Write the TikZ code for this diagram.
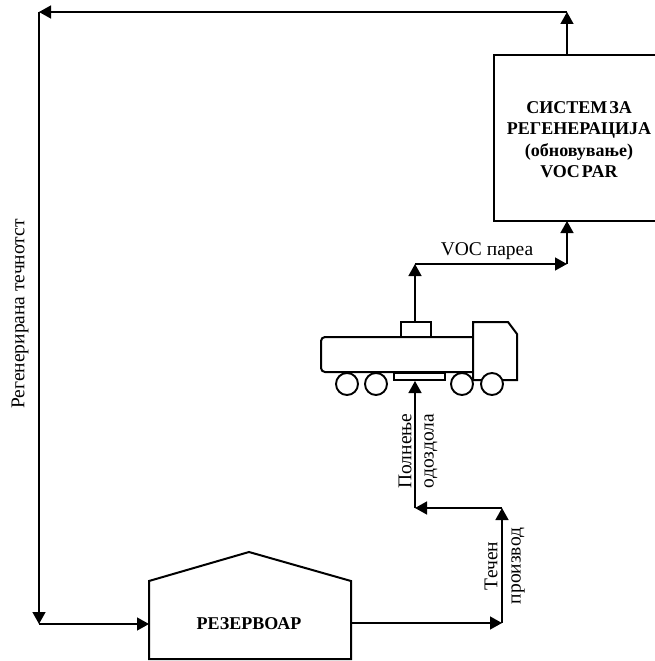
\documentclass[tikz,border=0pt]{standalone}
\usepackage{fontspec}
\setmainfont{Liberation Serif}
\usetikzlibrary{arrows.meta}

\begin{document}
\begin{tikzpicture}[
  x=1pt, y=-1pt,
  every node/.style={align=center, font=\fontsize{19.5}{22}\selectfont},
  title/.style={font=\fontsize{18}{21.5}\selectfont\bfseries},
  vessel/.style={draw=black, line width=2pt, line join=miter},
  wheel/.style={circle, draw=black, line width=1.9pt, minimum size=22pt, inner sep=0pt, fill=white},
  arrow/.style={-{Triangle[length=12pt, width=13pt]}, line width=1.4pt}
]
\useasboundingbox (0,0) rectangle (655,661);

% unit and tank outlines
\draw[vessel] (655,55) -- (494,55) -- (494,221) -- (655,221);
\draw[vessel] (149,581) -- (249,552) -- (351,581) -- (351,659) -- (149,659) -- cycle;
\node[title] (unit) at (579,139.5) {СИСТЕМ\hspace{2pt}ЗА\\РЕГЕНЕРАЦИЈА\\(обновување)\\VOC\hspace{2pt}PAR};
\node[title] (tank) at (249,624) {РЕЗЕРВОАР};

% truck
\draw[vessel, rounded corners=4pt] (473,337) -- (321,337) -- (321,372) -- (473,372);
\draw[vessel] (473,380) -- (473,322) -- (508,322) -- (517,334) -- (517,380) -- cycle;
\draw[vessel] (401,337) -- (401,322) -- (431,322) -- (431,337);
\draw[vessel] (394,373) rectangle (445,380);
\node[wheel] (wheela) at (347,384) {};
\node[wheel] (wheelb) at (376,384) {};
\node[wheel] (wheelc) at (462,384) {};
\node[wheel] (wheeld) at (492,384) {};

\coordinate (topright) at (567,12);
\coordinate (topleft) at (39,12);
\coordinate (unitin) at (567,221);
\coordinate (unitout) at (567,55);
\coordinate (vapour) at (567,264);
\coordinate (vapourup) at (415,264);
\coordinate (dome) at (415,322);
\coordinate (bottomleft) at (39,624);
\coordinate (tankin) at (149,624);
\coordinate (tankout) at (351,623);
\coordinate (riser) at (502,623);
\coordinate (risertop) at (502,508);
\coordinate (feed) at (415,508);
\coordinate (plate) at (415,381);

\draw[arrow] (unitout) -- (topright);
\draw[arrow] (topright) -- (topleft);
\draw[arrow] (topleft) -- (bottomleft);
\draw[arrow] (bottomleft) -- (tankin);
\draw[arrow] (tankout) -- (riser);
\draw[arrow] (riser) -- (risertop);
\draw[arrow] (risertop) -- (feed);
\draw[arrow] (feed) -- (plate);
\draw[arrow] (dome) -- (vapourup);
\draw[arrow] (vapourup) -- (vapour);
\draw[arrow] (vapour) -- (unitin);

\node (vocl) at (487,251) {VOC пареа};
\node[rotate=90] (regenl) at (20,314) {Регенерирана течнотст};
\node[rotate=90] (filll) at (405,451) {Полнење};
\node[rotate=90] (filllb) at (431,451) {одоздола};
\node[rotate=90] (prodl) at (491,566) {Течен};
\node[rotate=90] (prodlb) at (518,566) {производ};

\end{tikzpicture}
\end{document}
